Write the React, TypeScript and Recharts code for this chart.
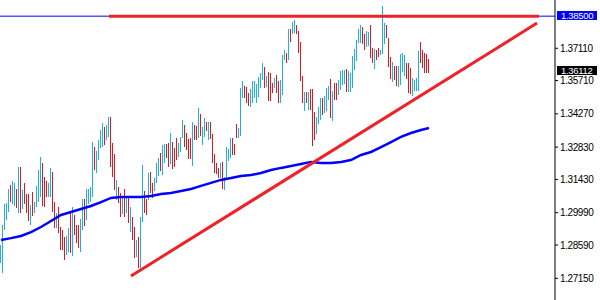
import React from "react";
import { ComposedChart, Bar, Line, XAxis, YAxis, ReferenceLine } from "recharts";

// bar highs / lows, one per period (oldest first)
const highs = [
  1.2859, 1.2946, 1.3037, 1.3041, 1.3102, 1.3119, 1.3136, 1.3128, 1.3102, 1.3197,
  1.3197, 1.3097, 1.3128, 1.3080, 1.3080, 1.3032, 1.3089, 1.3045, 1.3115, 1.3184,
  1.3240, 1.3214, 1.3154, 1.3136, 1.3128, 1.3193, 1.3175, 1.3045, 1.2998, 1.3024,
  1.2937, 1.2924, 1.2894, 1.2898, 1.2933, 1.2998, 1.3024, 1.2989, 1.2946, 1.2946,
  1.2972, 1.3058, 1.3058, 1.3102, 1.3102, 1.3110, 1.3305, 1.3283, 1.3266, 1.3314,
  1.3357, 1.3387, 1.3370, 1.3379, 1.3413, 1.3413, 1.3301, 1.3253, 1.3141, 1.3110,
  1.3084, 1.3067, 1.3102, 1.3067, 1.3063, 1.3024, 1.2980, 1.2937, 1.2881, 1.2894,
  1.2980, 1.3206, 1.3093, 1.3058, 1.3171, 1.3175, 1.3128, 1.3149, 1.3214, 1.3236,
  1.3258, 1.3292, 1.3296, 1.3296, 1.3301, 1.3344, 1.3305, 1.3279, 1.3322, 1.3301,
  1.3327, 1.3400, 1.3379, 1.3344, 1.3318, 1.3322, 1.3392, 1.3379, 1.3374, 1.3452,
  1.3426, 1.3370, 1.3409, 1.3392, 1.3392, 1.3392, 1.3340, 1.3253, 1.3214, 1.3193,
  1.3214, 1.3219, 1.3154, 1.3283, 1.3275, 1.3322, 1.3322, 1.3296, 1.3383, 1.3366,
  1.3539, 1.3569, 1.3548, 1.3543, 1.3517, 1.3535, 1.3569, 1.3569, 1.3556, 1.3587,
  1.3604, 1.3647, 1.3630, 1.3591, 1.3608, 1.3604, 1.3561, 1.3582, 1.3595, 1.3569,
  1.3574, 1.3682, 1.3704, 1.3691, 1.3794, 1.3794, 1.3825, 1.3833, 1.3812, 1.3786,
  1.3738, 1.3591, 1.3522, 1.3522, 1.3522, 1.3535, 1.3535, 1.3435, 1.3413, 1.3457,
  1.3496, 1.3496, 1.3504, 1.3539, 1.3548, 1.3578, 1.3526, 1.3561, 1.3561, 1.3574,
  1.3613, 1.3617, 1.3617, 1.3621, 1.3613, 1.3604, 1.3678, 1.3708, 1.3747, 1.3794,
  1.3812, 1.3803, 1.3773, 1.3786, 1.3781, 1.3812, 1.3712, 1.3708, 1.3704, 1.3712,
  1.3704, 1.3894, 1.3820, 1.3812, 1.3755, 1.3673, 1.3652, 1.3634, 1.3634, 1.3634,
  1.3686, 1.3691, 1.3682, 1.3647, 1.3647, 1.3626, 1.3582, 1.3574, 1.3582, 1.3699,
  1.3738, 1.3704, 1.3691, 1.3686, 1.3665,
];

const lows = [
  1.2781, 1.2738, 1.2924, 1.2967, 1.3002, 1.3045, 1.3037, 1.3028, 1.3019, 1.2998,
  1.2998, 1.3015, 1.3037, 1.2998, 1.2963, 1.2946, 1.2985, 1.2998, 1.3024, 1.3045,
  1.3067, 1.3028, 1.3024, 1.3067, 1.3067, 1.3067, 1.3002, 1.2933, 1.2933, 1.2911,
  1.2837, 1.2837, 1.2794, 1.2816, 1.2829, 1.2824, 1.2812, 1.2902, 1.2868, 1.2846,
  1.2829, 1.2924, 1.2941, 1.2967, 1.3037, 1.3045, 1.3067, 1.3184, 1.3171, 1.3227,
  1.3279, 1.3283, 1.3292, 1.3314, 1.3327, 1.3197, 1.3154, 1.3097, 1.3054, 1.3041,
  1.2980, 1.2993, 1.2980, 1.2998, 1.2954, 1.2915, 1.2881, 1.2803, 1.2807, 1.2760,
  1.2760, 1.2959, 1.2998, 1.2989, 1.3054, 1.3084, 1.3063, 1.3093, 1.3128, 1.3158,
  1.3180, 1.3162, 1.3214, 1.3236, 1.3197, 1.3210, 1.3188, 1.3197, 1.3227, 1.3240,
  1.3262, 1.3322, 1.3283, 1.3271, 1.3232, 1.3232, 1.3201, 1.3314, 1.3314, 1.3322,
  1.3331, 1.3292, 1.3327, 1.3353, 1.3314, 1.3318, 1.3214, 1.3171, 1.3167, 1.3149,
  1.3149, 1.3102, 1.3097, 1.3149, 1.3223, 1.3236, 1.3249, 1.3249, 1.3322, 1.3322,
  1.3331, 1.3496, 1.3496, 1.3474, 1.3461, 1.3457, 1.3474, 1.3496, 1.3474, 1.3500,
  1.3539, 1.3574, 1.3539, 1.3543, 1.3483, 1.3483, 1.3517, 1.3539, 1.3517, 1.3474,
  1.3474, 1.3509, 1.3660, 1.3647, 1.3660, 1.3738, 1.3773, 1.3777, 1.3773, 1.3691,
  1.3569, 1.3474, 1.3439, 1.3474, 1.3444, 1.3444, 1.3288, 1.3314, 1.3340, 1.3383,
  1.3400, 1.3422, 1.3431, 1.3439, 1.3487, 1.3409, 1.3396, 1.3487, 1.3487, 1.3509,
  1.3530, 1.3552, 1.3556, 1.3522, 1.3522, 1.3522, 1.3539, 1.3617, 1.3656, 1.3734,
  1.3734, 1.3729, 1.3704, 1.3716, 1.3721, 1.3669, 1.3647, 1.3621, 1.3660, 1.3673,
  1.3682, 1.3686, 1.3729, 1.3755, 1.3630, 1.3578, 1.3565, 1.3574, 1.3548, 1.3543,
  1.3552, 1.3608, 1.3591, 1.3578, 1.3517, 1.3513, 1.3504, 1.3526, 1.3526, 1.3526,
  1.3647, 1.3626, 1.3604, 1.3604, 1.3604,
];

// u = up bar, d = down bar
const dirs = [
  "uuuuuduudu", "duddduduuu", "uddduuddud", "ddduududdd", "uuduuuuduu",
  "uuduudddud", "dudududdud", "uuddudduuu", "duuddudddu", "uudddduddu",
  "duududdddd", "uduuuudddu", "uuddduuuuu", "uududddudd", "uuududuudd",
  "ddududdduu", "uduuududdu", "uuuduuuuuu", "udduuddudd", "uuuddduddu",
  "uuuddduuuuddddd",
].join("");

// moving average, read every 5 bars
const maIdx = [0, 5, 10, 15, 20, 25, 30, 35, 40, 45, 50, 55, 60, 65, 70, 75, 80, 85, 90, 95,
  100, 105, 110, 115, 120, 125, 130, 135, 140, 145, 150, 155, 160, 165, 170, 175, 180, 185,
  190, 195, 200, 205, 210, 214];
const maVals = [1.2881, 1.2889, 1.2898, 1.2915, 1.2937, 1.2963, 1.2989, 1.3002, 1.3015, 1.3028,
  1.3045, 1.3063, 1.3067, 1.3067, 1.3067, 1.3071, 1.3080, 1.3084, 1.3093, 1.3102,
  1.3115, 1.3128, 1.3141, 1.3149, 1.3158, 1.3162, 1.3171, 1.3184, 1.3193, 1.3201,
  1.3210, 1.3219, 1.3214, 1.3214, 1.3219, 1.3227, 1.3249, 1.3262, 1.3283, 1.3305,
  1.3327, 1.3344, 1.3357, 1.3366];

const priceTicks = [1.3711, 1.3571, 1.3427, 1.3283, 1.3143, 1.2999, 1.2859, 1.2715];
const resistance = 1.385;
const lastPrice = 1.36112;
const resistStart = 54;
const resistEnd = 269;
const supportStart = { bar: 65, price: 1.2725 };
const supportEnd = { bar: 268, price: 1.382 };

const UP = "#1CB2E8";
const DOWN = "#E8141C";
const TREND = "#EE2228";
const MA = "#0000FF";
const FONT = "'Liberation Sans', Arial, sans-serif";

const data = highs.map((h, i) => ({
  x: i + 0.5,
  range: [lows[i], h],
  up: dirs[i] === "u",
}));

const maData = maIdx.map((i, k) => ({ x: i + 0.5, ma: maVals[k] }));

const Stick = (props: any) => {
  const { x, y, width, height, payload } = props;
  if (x == null || y == null) return null;
  const cx = Math.floor(x + width / 2 + 0.01);
  return (
    <rect
      x={cx}
      y={Math.round(y)}
      width={1}
      height={Math.max(1, Math.round(height))}
      fill={payload.up ? UP : DOWN}
      shapeRendering="crispEdges"
    />
  );
};

const PriceTag = (props: any) => {
  const { viewBox, bg, text } = props;
  if (!viewBox) return null;
  const y = Math.round(viewBox.y) - 1;
  const x0 = viewBox.x + viewBox.width + 2;
  return (
    <g>
      <rect x={x0} y={y - 4} width={40} height={9} fill={bg} />
      <text
        x={x0 + 4}
        y={y + 3.5}
        fill="#fff"
        fontSize={9.5}
        fontFamily={FONT}
        letterSpacing={-0.3}
      >
        {text}
      </text>
    </g>
  );
};

export default function App() {
  return (
    <div style={{ position: "absolute", left: 0, top: 0, width: 600, height: 300, background: "#fff" }}>
      <ComposedChart width={600} height={300} data={data} margin={{ top: 0, right: 0, bottom: 0, left: 0 }}>
        <XAxis dataKey="x" type="number" domain={[0, 277.5]} hide />
        <YAxis
          orientation="right"
          width={45}
          domain={[1.2621, 1.392]}
          ticks={priceTicks}
          tickFormatter={(v: number) => v.toFixed(5)}
          axisLine={{ stroke: "#000" }}
          tickLine={{ stroke: "#000" }}
          tickSize={3}
          tickMargin={2}
          tick={{ fill: "#000", fontSize: 10, fontFamily: FONT, letterSpacing: -0.4 }}
          interval={0}
        />
        <ReferenceLine
          y={resistance}
          stroke={MA}
          strokeWidth={1}
          label={<PriceTag bg={MA} text={resistance.toFixed(5)} />}
        />
        <ReferenceLine
          segment={[{ x: resistStart + 0.5, y: resistance }, { x: resistEnd + 0.5, y: resistance }]}
          stroke={TREND}
          strokeWidth={3}
        />
        <Bar dataKey="range" barSize={1} shape={<Stick />} isAnimationActive={false} />
        <Line
          data={maData}
          dataKey="ma"
          type="linear"
          stroke={MA}
          strokeWidth={2.5}
          dot={false}
          activeDot={false}
          isAnimationActive={false}
        />
        <ReferenceLine
          segment={[
            { x: supportStart.bar + 0.5, y: supportStart.price },
            { x: supportEnd.bar + 0.5, y: supportEnd.price },
          ]}
          stroke={TREND}
          strokeWidth={3}
        />
        <ReferenceLine
          y={lastPrice}
          stroke="none"
          label={<PriceTag bg="#000" text={lastPrice.toFixed(5)} />}
        />
      </ComposedChart>
    </div>
  );
}
